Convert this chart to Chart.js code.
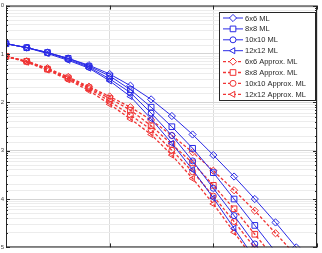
<!DOCTYPE html>
<html>
<head>
<meta charset="utf-8">
<script src="https://cdn.jsdelivr.net/npm/chart.js@4.4.0/dist/chart.umd.min.js"></script>
<style>
  html, body { margin: 0; padding: 0; background: #fff; }
  #wrap { width: 322px; height: 253px; }
</style>
</head>
<body>
<div id="wrap"><canvas id="berChart" width="322" height="253"></canvas></div>
<script>
// SNR axis (dB) and BER range
const snr = [0, 2, 4, 6, 8, 10, 12, 14, 16, 18, 20, 22, 24, 26, 28, 30];
const xTicks = [0, 10, 20, 30];
const yMin = 1e-5;
const yMax = 1;

// BER
const ml6 = [0.163, 0.135, 0.107, 0.0811, 0.0586, 0.0385, 0.0221, 0.0115, 0.00521, 0.00216, 8.1e-4, 2.92e-4, 1.0e-4, 3.28e-5, 1.0e-5, 3.2e-6];
const ml8 = [0.163, 0.135, 0.107, 0.0811, 0.0559, 0.0351, 0.0183, 0.00793, 0.00313, 0.00112, 3.51e-4, 1.0e-4, 2.85e-5, 8.1e-6];
const ml10 = [0.163, 0.135, 0.107, 0.0774, 0.0534, 0.0305, 0.0159, 0.0060, 0.00206, 6.14e-4, 1.67e-4, 4.54e-5, 1.18e-5, 3.05e-6];
const ml12 = [0.163, 0.135, 0.102, 0.0739, 0.0509, 0.0278, 0.0132, 0.00454, 0.00142, 4.04e-4, 1.05e-4, 2.48e-5, 5.86e-6];
const apx6 = [0.089, 0.0705, 0.0509, 0.0335, 0.0211, 0.0132, 0.00793, 0.00433, 0.00206, 9.3e-4, 3.85e-4, 1.52e-4, 5.73e-5, 1.96e-5, 6.7e-6];
const apx8 = [0.089, 0.0705, 0.0486, 0.0320, 0.0201, 0.0120, 0.00689, 0.00327, 0.00135, 5.59e-4, 1.92e-4, 6.28e-5, 1.87e-5, 5.59e-6];
const apx10 = [0.089, 0.0705, 0.0486, 0.0305, 0.0192, 0.0105, 0.00546, 0.00272, 0.00102, 3.68e-4, 1.15e-4, 3.43e-5, 9.8e-6, 3.0e-6];
const apx12 = [0.089, 0.0673, 0.0464, 0.0292, 0.0175, 0.00912, 0.00454, 0.00216, 8.1e-4, 2.66e-4, 7.93e-5, 2.06e-5, 5.33e-6];

const labels = ["6x6 ML", "8x8 ML", "10x10 ML", "12x12 ML",
  "6x6 Approx. ML", "8x8 Approx. ML", "10x10 Approx. ML", "12x12 Approx. ML"];

const BLUE = "#2a2ae6";
const RED = "#f03434";

function pts(arr) {
  return arr.map((v, i) => ({ x: snr[i], y: v }));
}

function series(label, arr, color, style, radius, dashed) {
  return {
    label: label,
    data: pts(arr),
    borderColor: color,
    backgroundColor: "rgba(0,0,0,0)",
    borderWidth: dashed ? 1.3 : 1,
    borderDash: dashed ? [3, 2] : [],
    pointStyle: style,
    pointRotation: style === "triangle" ? -90 : 0,
    pointRadius: radius,
    pointBorderWidth: 1,
    pointBorderColor: color,
    pointBackgroundColor: "rgba(0,0,0,0)",
    tension: 0,
    fill: false
  };
}

const isMajor = (v) => Math.abs(Math.log10(v) - Math.round(Math.log10(v))) < 1e-6;

// box, inner tick marks and MATLAB style legend
const boxPlugin = {
  id: "box",
  afterDraw(chart) {
    const ctx = chart.ctx;
    const a = chart.chartArea;
    const ys = chart.scales.y;
    const xs = chart.scales.x;
    ctx.save();
    ctx.strokeStyle = "#262626";
    ctx.lineWidth = 1;
    ctx.strokeRect(a.left + 0.5, a.top + 0.5, a.right - a.left - 1, a.bottom - a.top - 1);
    ctx.beginPath();
    ys.ticks.forEach(t => {
      const y = Math.round(ys.getPixelForValue(t.value)) + 0.5;
      const len = isMajor(t.value) ? 4 : 2;
      ctx.moveTo(a.left, y); ctx.lineTo(a.left + len, y);
      ctx.moveTo(a.right, y); ctx.lineTo(a.right - len, y);
    });
    xTicks.forEach(v => {
      const x = Math.round(xs.getPixelForValue(v)) + 0.5;
      ctx.moveTo(x, a.top); ctx.lineTo(x, a.top + 4);
      ctx.moveTo(x, a.bottom); ctx.lineTo(x, a.bottom - 4);
    });
    ctx.stroke();

    // legend
    const lx = 219, ly = 12, lw = 96, lh = 88;
    ctx.fillStyle = "#fff";
    ctx.fillRect(lx, ly, lw, lh);
    ctx.strokeStyle = "#262626";
    ctx.strokeRect(lx + 0.5, ly + 0.5, lw, lh);
    ctx.font = '7.5px "Liberation Sans", Arial, sans-serif';
    ctx.textBaseline = "middle";
    chart.data.datasets.forEach((ds, i) => {
      const y = ly + 6 + i * 10.9;
      ctx.strokeStyle = ds.borderColor;
      ctx.lineWidth = ds.borderWidth;
      ctx.setLineDash(ds.borderDash);
      ctx.beginPath();
      ctx.moveTo(lx + 4, y); ctx.lineTo(lx + 24, y);
      ctx.stroke();
      ctx.setLineDash([]);
      ctx.lineWidth = ds.pointBorderWidth;
      ctx.fillStyle = "#fff";
      Chart.helpers.drawPoint(ctx, {
        pointStyle: ds.pointStyle,
        radius: ds.pointRadius,
        rotation: ds.pointRotation,
        borderWidth: ds.pointBorderWidth
      }, lx + 14, y);
      ctx.fillStyle = "#262626";
      ctx.fillText(ds.label, lx + 26, y + 0.5);
    });
    ctx.restore();
  }
};

new Chart(document.getElementById("berChart").getContext("2d"), {
  type: "line",
  data: {
    datasets: [
      series(labels[0], ml6, BLUE, "rectRot", 3.6, false),
      series(labels[1], ml8, BLUE, "rect", 4, false),
      series(labels[2], ml10, BLUE, "circle", 3, false),
      series(labels[3], ml12, BLUE, "triangle", 3.5, false),
      series(labels[4], apx6, RED, "rectRot", 3.6, true),
      series(labels[5], apx8, RED, "rect", 4, true),
      series(labels[6], apx10, RED, "circle", 3, true),
      series(labels[7], apx12, RED, "triangle", 3.5, true)
    ]
  },
  options: {
    responsive: false,
    animation: false,
    layout: { padding: { top: 5, right: 3, bottom: 3, left: 0 } },
    plugins: { legend: { display: false }, tooltip: { enabled: false } },
    scales: {
      x: {
        type: "linear",
        min: 0,
        max: 30,
        ticks: { display: false, stepSize: 10 },
        grid: { color: "#dcdcdc", drawTicks: false },
        border: { display: false },
        afterFit(scale) { scale.height = 0; }
      },
      y: {
        type: "logarithmic",
        min: yMin,
        max: yMax,
        ticks: {
          autoSkip: false,
          padding: 2,
          color: "#444",
          font: { size: 6, family: "Liberation Sans, Arial, sans-serif" },
          callback: (v) => isMajor(v) ? String(Math.round(-Math.log10(v))) : ""
        },
        grid: {
          drawTicks: false,
          color: (c) => (c.tick && isMajor(c.tick.value)) ? "#d4d4d4" : "#ececec"
        },
        border: { display: false },
        afterFit(scale) { scale.width = 6; }
      }
    }
  },
  plugins: [boxPlugin]
});
</script>
</body>
</html>
